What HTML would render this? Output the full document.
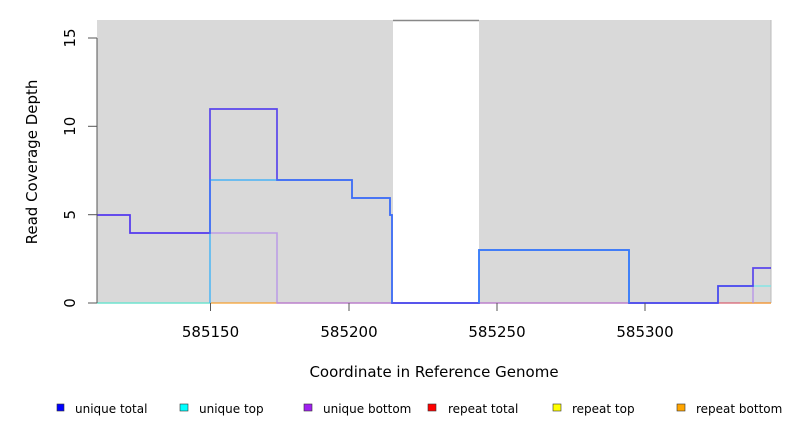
<!DOCTYPE html>
<html><head><style>body{margin:0;background:#fff}svg{display:block;font-family:"DejaVu Sans","Liberation Sans",sans-serif}</style></head>
<body>
<svg width="792" height="432" viewBox="0 0 792 432">
<rect x="97" y="20" width="674" height="283" fill="#d9d9d9"/>
<rect x="393" y="21" width="86" height="282" fill="#fff"/>
<line x1="393" y1="20.5" x2="479" y2="20.5" stroke="#888" stroke-width="1.5"/>
<line x1="771" y1="20" x2="771" y2="303" stroke="#bbb" stroke-width="1"/>
<polyline points="97,303 210,303" stroke="#7ccf7c" stroke-width="1.2" fill="none"/>
<polyline points="210,303 277,303" stroke="#f5a030" stroke-width="1.2" fill="none"/>
<polyline points="277,303 393,303 479,303 771,303" stroke="#d86070" stroke-width="1.2" fill="none"/>
<polyline points="740,303 771,303" stroke="#f5a030" stroke-width="1.2" fill="none"/>
<polyline points="97,215 130,215 130,233 277,233 277,303 718,303 718,286 753,286 753,303" stroke="#b58ee8" stroke-width="1.6" fill="none" opacity="0.8"/>
<polyline points="97,303 210,303 210,180 352,180 352,198 390,198 390,215 392,215 392,303 479,303 479,250 629,250 629,303 718,303 718,286 771,286" stroke="#70e8e8" stroke-width="1.6" fill="none" opacity="0.8"/>
<polyline points="97,215 130,215 130,233 210,233 210,109 277,109 277,180 352,180 352,198 390,198 390,215 392,215 392,303 479,303 479,250 629,250 629,303 718,303 718,286 753,286 753,268 771,268" stroke="#3a20f0" stroke-width="1.7" fill="none" opacity="0.8"/>
<polyline points="210,303 210,180 352,180 352,198 390,198 390,215 392,215 392,303" stroke="#3090ff" stroke-width="1.4" fill="none" opacity="0.6"/>
<polyline points="479,303 479,250 629,250 629,303" stroke="#3090ff" stroke-width="1.6" fill="none" opacity="0.8"/>
<g stroke="#555" stroke-width="1">
<line x1="97" y1="38" x2="97" y2="303"/>
<line x1="88" y1="38" x2="97" y2="38"/><line x1="88" y1="126.3" x2="97" y2="126.3"/><line x1="88" y1="214.7" x2="97" y2="214.7"/><line x1="88" y1="303" x2="97" y2="303"/>
<line x1="210.5" y1="303" x2="210.5" y2="311"/><line x1="349" y1="303" x2="349" y2="311"/><line x1="497" y1="303" x2="497" y2="311"/><line x1="645" y1="303" x2="645" y2="311"/>
</g>
<g font-size="15" fill="#000" text-anchor="middle">
<text transform="translate(75,38) rotate(-90)">15</text>
<text transform="translate(75,126.3) rotate(-90)">10</text>
<text transform="translate(75,214.7) rotate(-90)">5</text>
<text transform="translate(75,303) rotate(-90)">0</text>
<text x="210.5" y="337">585150</text><text x="349" y="337">585200</text><text x="497" y="337">585250</text><text x="645" y="337">585300</text>
<text x="434" y="377">Coordinate in Reference Genome</text>
<text transform="translate(37,162) rotate(-90)">Read Coverage Depth</text>
</g>
<g font-size="12" fill="#000">
<rect x="57" y="404" width="7" height="7" fill="#0000ff" stroke="#333" stroke-width="0.6"/><text x="75" y="413">unique total</text>
<rect x="180" y="404" width="8" height="7" fill="#00ffff" stroke="#333" stroke-width="0.6"/><text x="199" y="413">unique top</text>
<rect x="304" y="404" width="8" height="7" fill="#a020f0" stroke="#333" stroke-width="0.6"/><text x="323" y="413">unique bottom</text>
<rect x="428" y="404" width="8" height="7" fill="#ff0000" stroke="#333" stroke-width="0.6"/><text x="448" y="413">repeat total</text>
<rect x="553" y="404" width="8" height="7" fill="#ffff00" stroke="#333" stroke-width="0.6"/><text x="572" y="413">repeat top</text>
<rect x="677" y="404" width="8" height="7" fill="#ffa500" stroke="#333" stroke-width="0.6"/><text x="696" y="413">repeat bottom</text>
</g>
</svg>
</body></html>
